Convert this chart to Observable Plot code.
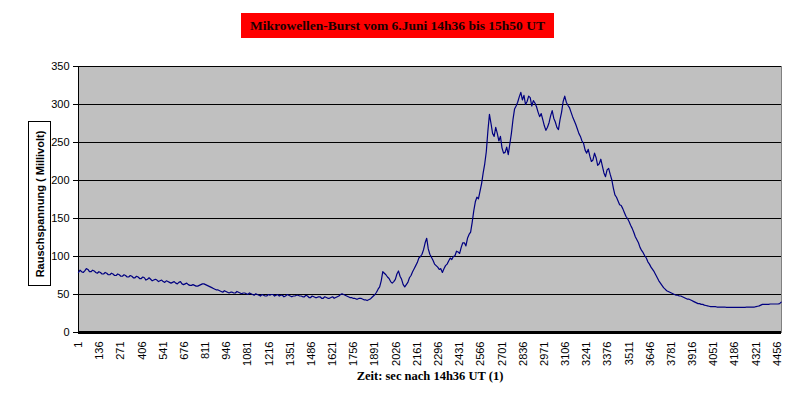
<!DOCTYPE html>
<html>
<head>
<meta charset="utf-8">
<script src="https://cdn.jsdelivr.net/npm/d3@7"></script>
<script src="https://cdn.jsdelivr.net/npm/@observablehq/plot@0.6"></script>
<style>
  html, body { margin: 0; padding: 0; background: #fff; }
  #wrap { position: relative; width: 796px; height: 397px; overflow: hidden; }
  #title { position: absolute; left: 241px; top: 13px; width: 313px; height: 25px; background: #ff0000;
    font: bold 13.5px "Liberation Serif", "Times New Roman", serif; color: #1a0000; text-align: center; line-height: 25px; }
  #ylab { position: absolute; left: 28px; top: 121px; width: 21px; height: 163px; border: 1px solid #000; background: #fff; }
  #ylab span { position: absolute; left: 50%; top: 50%; transform: translate(-50%, -50%) rotate(-90deg); white-space: nowrap;
    font: bold 11px "Liberation Sans", Arial, sans-serif; color: #000; }
  #chart { position: absolute; left: 0; top: 0; }
</style>
</head>
<body>
<div id="wrap">
  <div id="chart"></div>
  <div id="title">Mikrowellen-Burst vom 6.Juni 14h36 bis 15h50 UT</div>
  <div id="ylab"><span>Rauschspannung ( Millivolt)</span></div>
</div>
<script>
// Sampling step (seconds) of the read-off values
const tStart = 1;
const tStep = 10;
// Noise voltage in millivolts, every 10 s
const voltage = [
  79,82,80,79,81,84,83,80,80,82,81,79,78,80,79,77,77,79,78,76,
  76,78,77,75,75,77,76,74,74,76,75,73,73,75,74,72,72,74,73,71,
  71,73,72,69,70,72,70,68,69,70,69,67,68,69,67,66,68,67,66,65,
  66,67,65,64,66,67,64,63,64,65,63,62,62,63,62,61,61,62,63,64,
  64,63,62,61,60,59,58,57,56,56,55,54,53,55,54,53,52,53,53,52,
  52,54,53,52,51,52,52,51,50,52,51,50,49,51,50,49,48,50,49,48,
  48,50,49,50,50,48,49,50,48,49,49,47,48,50,49,48,47,48,48,49,
  49,48,48,47,47,49,48,46,46,48,47,46,46,47,47,45,45,47,46,45,
  45,46,47,45,46,47,48,50,51,50,49,48,47,46,46,45,45,44,44,45,
  45,44,43,43,42,43,44,46,48,50,53,57,60,68,80,78,76,73,71,67,
  65,67,70,77,81,74,70,63,60,63,66,72,75,80,84,88,92,98,100,103,
  109,118,124,110,103,99,95,90,88,86,83,84,79,84,88,90,94,98,96,100,
  101,107,106,104,112,118,118,114,124,129,132,145,160,172,178,176,186,196,210,222,
  238,265,287,275,262,258,270,262,252,258,243,236,237,244,234,248,262,280,294,298,
  303,310,316,306,312,300,304,311,309,298,305,302,297,290,284,288,280,272,266,270,
  276,285,292,282,277,270,267,280,290,304,311,303,299,296,290,284,279,274,268,262,
  258,252,249,240,236,241,232,225,227,236,230,220,222,228,219,210,205,214,216,208,
  201,190,181,178,173,168,167,163,158,153,150,146,141,137,132,126,122,118,112,108,
  105,101,98,93,90,86,83,80,76,72,68,65,62,59,57,55,54,53,52,51,
  50,49,49,48,48,47,46,45,44,44,43,42,41,40,39,38,38,37,37,36,
  35.5,35,34.5,34,34,34,34,33.5,33.5,33.5,33.5,33.5,33.5,33,33,33,33,33,33,33,
  33,33,33,33,33,33,33.5,33.5,33.5,33.5,33.5,33.5,34,34.5,35,36,37,37,37,37,
  37,37.5,37.5,37.5,37.5,37.5,37.5,38,40
];
const xTicks = [1,136,271,406,541,676,811,946,1081,1216,1351,1486,1621,1756,1891,2026,2161,2296,2431,2566,2701,2836,2971,3106,3241,3376,3511,3646,3781,3916,4051,4186,4321,4456];
const yTicks = [0,50,100,150,200,250,300,350];
const xLabel = "Zeit: sec nach 14h36 UT (1)";

const data = voltage.map((v, i) => ({t: tStart + i * tStep, v}));

const chart = Plot.plot({
  width: 796,
  height: 397,
  marginLeft: 78,
  marginRight: 15,
  marginTop: 66,
  marginBottom: 65,
  style: {fontFamily: '"Liberation Sans", Arial, sans-serif', fontSize: "11px", background: "transparent", color: "#000"},
  x: {domain: [1, 4483]},
  y: {domain: [0, 350]},
  marks: [
    Plot.frame({fill: "#c0c0c0", stroke: "#808080"}),
    Plot.ruleY(yTicks.filter(d => d > 0), {stroke: "#000", strokeWidth: 1}),
    Plot.ruleX([1], {stroke: "#000"}),
    Plot.axisY({ticks: yTicks, tickSize: 5, tickPadding: 4, label: null, fontSize: 11}),
    Plot.axisX({ticks: xTicks, tickFormat: d => String(d), tickRotate: -90, tickSize: 0, tickPadding: 9, label: null, fontSize: 11}),
    Plot.line(data, {x: "t", y: "v", stroke: "#000080", strokeWidth: 1.2}),
    Plot.ruleY([0], {stroke: "#000", strokeWidth: 3}),
    Plot.text([xLabel], {frameAnchor: "bottom", dy: 47, text: d => d, fontFamily: '"Liberation Serif", "Times New Roman", serif', fontWeight: "bold", fontSize: 12.5})
  ]
});
document.getElementById("chart").appendChild(chart);
</script>
</body>
</html>
